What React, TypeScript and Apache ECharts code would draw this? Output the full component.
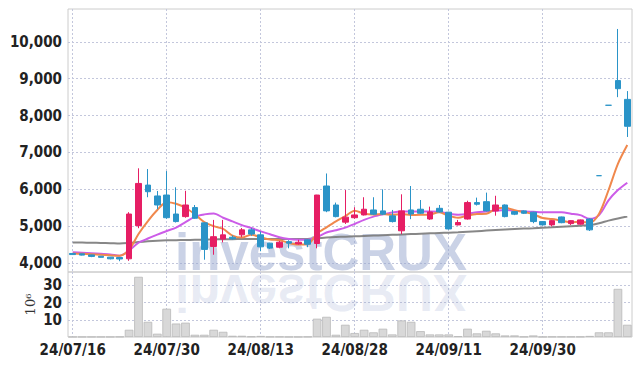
import { useEffect, useRef } from 'react';
import * as echarts from 'echarts';

const dates = [
  '24/07/16', '24/07/17', '24/07/18', '24/07/19', '24/07/22', '24/07/23', '24/07/24', '24/07/25', '24/07/26', '24/07/29',
  '24/07/30', '24/07/31', '24/08/01', '24/08/02', '24/08/05', '24/08/06', '24/08/07', '24/08/08', '24/08/09', '24/08/12',
  '24/08/13', '24/08/14', '24/08/16', '24/08/19', '24/08/20', '24/08/21', '24/08/22', '24/08/23', '24/08/26', '24/08/27',
  '24/08/28', '24/08/29', '24/08/30', '24/09/02', '24/09/03', '24/09/04', '24/09/05', '24/09/06', '24/09/09', '24/09/10',
  '24/09/11', '24/09/12', '24/09/13', '24/09/19', '24/09/20', '24/09/23', '24/09/24', '24/09/25', '24/09/26', '24/09/27',
  '24/09/30', '24/10/02', '24/10/04', '24/10/07', '24/10/08', '24/10/10', '24/10/11', '24/10/14', '24/10/15', '24/10/16',
];

const opens = [
  4260, 4250, 4220, 4185, 4160, 4150, 4115, 5015, 6115, 5820,
  5845, 5330, 5260, 5505, 5090, 4450, 4650, 4700, 4765, 4900,
  4765, 4540, 4430, 4580, 4520, 4630, 4530, 6090, 5575, 5110,
  5230, 5305, 5440, 5415, 5280, 4875, 5440, 5460, 5195, 5485,
  5380, 5035, 5195, 5640, 5665, 5415, 5575, 5395, 5415, 5380,
  5125, 5035, 5250, 5070, 5055, 5195, 6370, 8280, 8950, 8440,
];
const closes = [
  4230, 4215, 4180, 4155, 4115, 4110, 5330, 6160, 5935, 5575,
  5230, 5125, 5575, 5215, 4370, 4715, 4765, 4660, 4900, 4785,
  4440, 4405, 4565, 4540, 4565, 4510, 5845, 5415, 5260, 5245,
  5305, 5460, 5325, 5325, 5125, 5415, 5330, 5350, 5385, 5385,
  4925, 5100, 5640, 5595, 5415, 5575, 5260, 5325, 5350, 5125,
  5035, 5150, 5095, 5150, 5170, 4900, 6370, 8280, 8730, 7710,
];
const lows = [
  4220, 4205, 4160, 4150, 4100, 4050, 4060, 4945, 5785, 5460,
  5200, 5100, 5230, 5200, 4090, 4225, 4560, 4630, 4700, 4740,
  4320, 4380, 4400, 4400, 4500, 4430, 4400, 5380, 5240, 5060,
  5200, 5290, 5300, 5300, 5100, 4785, 5190, 5330, 5170, 5370,
  4910, 5020, 5180, 5560, 5400, 5285, 5240, 5300, 5330, 5080,
  5020, 4990, 5080, 5030, 5040, 4870, 6370, 8280, 8500, 7420,
];
const highs = [
  4265, 4255, 4225, 4190, 4165, 4155, 5380, 6570, 6550, 5955,
  6495, 6055, 5960, 5575, 5100, 5170, 5170, 4750, 4950, 4950,
  4855, 4550, 4600, 4620, 4630, 4640, 5850, 6430, 5640, 5980,
  5515, 5785, 5785, 6000, 5440, 5865, 6090, 5710, 5530, 5575,
  5390, 5170, 5690, 5775, 5910, 5825, 5590, 5410, 5430, 5390,
  5135, 5165, 5260, 5160, 5180, 5210, 6370, 8280, 10350, 8665,
];
// volume in millions of shares
const volumes = [
  0.1, 0.1, 0.1, 0.1, 0.1, 0.2, 4.2, 34.9, 8.8, 1.9,
  16.4, 7.8, 8.3, 1.3, 1.3, 4.2, 3.0, 0.7, 0.7, 0.3,
  0.6, 0.2, 0.2, 0.1, 0.1, 0.2, 10.6, 11.7, 1.3, 7.1,
  2.3, 4.2, 2.7, 4.8, 1.5, 9.6, 8.8, 3.4, 1.5, 1.5,
  1.5, 0.5, 4.8, 2.1, 3.6, 2.1, 0.9, 0.9, 0.2, 0.9,
  0.1, 0.2, 0.2, 0.2, 0.2, 0.6, 2.7, 2.7, 27.9, 7.1,
];
const ma5 = [
  4260, 4250, 4240, 4225, 4210, 4200, 4360, 4790, 5140, 5440,
  5650, 5610, 5500, 5320, 5110, 5000, 4925, 4745, 4690, 4770,
  4700, 4640, 4620, 4545, 4505, 4510, 4800, 4970, 5130, 5270,
  5420, 5340, 5320, 5330, 5310, 5330, 5305, 5310, 5320, 5375,
  5280, 5230, 5290, 5330, 5335, 5470, 5500, 5435, 5385, 5325,
  5220, 5195, 5150, 5110, 5120, 5095, 5340, 5975, 6690, 7200,
];
const ma20 = [
  4290, 4280, 4265, 4250, 4235, 4200, 4340, 4550, 4665, 4770,
  4870, 4960, 5110, 5260, 5320, 5345, 5230, 5130, 5030, 4950,
  4860, 4780, 4700, 4655, 4635, 4630, 4700, 4830, 4890, 4960,
  5060, 5170, 5260, 5320, 5370, 5395, 5395, 5395, 5395, 5390,
  5340, 5310, 5330, 5380, 5400, 5420, 5440, 5420, 5400, 5390,
  5380, 5380, 5375, 5340, 5300, 5200, 5300, 5700, 5980, 6180,
];
const ma60 = [
  4560, 4555, 4550, 4545, 4540, 4530, 4545, 4570, 4590, 4605,
  4615, 4620, 4625, 4630, 4635, 4640, 4645, 4648, 4650, 4650,
  4650, 4650, 4650, 4650, 4650, 4655, 4670, 4690, 4705, 4715,
  4725, 4735, 4745, 4755, 4765, 4775, 4785, 4795, 4805, 4815,
  4825, 4835, 4850, 4865, 4880, 4895, 4910, 4925, 4935, 4945,
  4960, 4970, 4985, 5000, 5015, 5030, 5080, 5150, 5210, 5260,
];
const priceTicks = [4000, 5000, 6000, 7000, 8000, 9000, 10000];
const volumeTicks = [10, 20, 30];

const UP = '#e61e64';
const DOWN = '#2a94c8';
const LABEL_FONT = "'Liberation Sans Narrow', 'DejaVu Sans Condensed', sans-serif";
const GRID_LINE = { type: [2, 2] as number[], color: '#c3c7dc', width: 1 };

export default function App() {
  const ref = useRef<HTMLDivElement>(null);
  useEffect(() => {
    document.body.style.margin = '0';
    if (!ref.current) return;
    const chart = echarts.init(ref.current, undefined, { renderer: 'svg' });
    const candleData = dates.map((_, i) => {
      const item: any = { value: [opens[i], closes[i], lows[i], highs[i]] };
      if (opens[i] === closes[i]) {
        item.itemStyle = { color: DOWN, borderColor: DOWN, color0: DOWN, borderColor0: DOWN };
      }
      return item;
    });
    const wmFont = "bold 51px 'Liberation Sans', Arial, sans-serif";
    const wmMid = 252;
    const option: any = {
      animation: false,
      backgroundColor: '#ffffff',
      graphic: [
        {
          type: 'text', x: 175, y: wmMid, z: 1, silent: true,
          style: { text: 'investCRUX', font: wmFont, fill: 'rgba(150,165,205,0.5)', verticalAlign: 'middle', align: 'left' },
        },
        {
          type: 'text', x: 175, y: 544 - wmMid, scaleY: -1, z: 1, silent: true,
          style: { text: 'investCRUX', font: wmFont, fill: 'rgba(150,165,205,0.22)', verticalAlign: 'middle', align: 'left' },
        },
      ],
      grid: [
        { left: 68, right: 10, top: 9, height: 263, show: true, borderColor: '#cccccc', borderWidth: 1, backgroundColor: 'transparent' },
        { left: 68, right: 10, top: 272, height: 65, show: true, borderColor: '#cccccc', borderWidth: 1, backgroundColor: 'transparent' },
      ],
      xAxis: [
        {
          type: 'category', gridIndex: 0, data: dates, boundaryGap: true,
          axisLine: { show: false }, axisTick: { show: false }, axisLabel: { show: false },
          splitLine: { show: true, interval: 9, alignWithLabel: true, lineStyle: GRID_LINE },
        },
        {
          type: 'category', gridIndex: 1, data: dates, boundaryGap: true,
          axisLine: { show: false }, axisTick: { show: false },
          axisLabel: { interval: 9, margin: 5, color: '#222', fontFamily: LABEL_FONT, fontWeight: 'bold', fontSize: 15 },
          splitLine: { show: true, interval: 9, alignWithLabel: true, lineStyle: GRID_LINE },
        },
      ],
      yAxis: [
        {
          type: 'value', gridIndex: 0, min: 3757, max: 10892,
          axisLine: { show: false }, axisTick: { show: false, customValues: priceTicks },
          axisLabel: {
            customValues: priceTicks, margin: 6, color: '#222', fontFamily: LABEL_FONT, fontWeight: 'bold', fontSize: 15,
            formatter: (v: number) => v.toLocaleString('en-US'),
          },
          splitLine: { show: true, lineStyle: GRID_LINE },
        },
        {
          type: 'value', gridIndex: 1, min: 0, max: 37.7,
          name: '10⁶', nameLocation: 'middle', nameRotate: 90, nameGap: 31, nameMoveOverlap: false,
          nameTextStyle: { fontFamily: "'DejaVu Serif', serif", fontSize: 13, color: '#333' },
          axisLine: { show: false }, axisTick: { show: false, customValues: volumeTicks },
          axisLabel: { customValues: volumeTicks, margin: 6, color: '#222', fontFamily: LABEL_FONT, fontWeight: 'bold', fontSize: 15 },
          splitLine: { show: true, lineStyle: GRID_LINE },
        },
      ],
      series: [
        {
          type: 'line', name: 'MA60', xAxisIndex: 0, yAxisIndex: 0, data: ma60, showSymbol: false, smooth: 0.3, z: 2,
          lineStyle: { color: '#7a7a7a', width: 2, opacity: 0.9 },
        },
        {
          type: 'line', name: 'MA20', xAxisIndex: 0, yAxisIndex: 0, data: ma20, showSymbol: false, smooth: 0.3, z: 2,
          lineStyle: { color: '#cc5ce8', width: 2 },
        },
        {
          type: 'line', name: 'MA5', xAxisIndex: 0, yAxisIndex: 0, data: ma5, showSymbol: false, smooth: 0.3, z: 2,
          lineStyle: { color: '#f0884c', width: 2 },
        },
        {
          type: 'candlestick', xAxisIndex: 0, yAxisIndex: 0, data: candleData, barWidth: '64%', z: 3,
          itemStyle: { color: UP, color0: DOWN, borderColor: UP, borderColor0: DOWN, borderWidth: 1 },
        },
        {
          type: 'bar', xAxisIndex: 1, yAxisIndex: 1, data: volumes, barWidth: '92%',
          itemStyle: { color: '#d8d8d8', borderColor: '#b9b9b9', borderWidth: 0.8 },
        },
      ],
    };
    chart.setOption(option);
    return () => chart.dispose();
  }, []);
  return <div ref={ref} style={{ width: 642, height: 366, position: 'absolute', left: 0, top: 0 }} />;
}
